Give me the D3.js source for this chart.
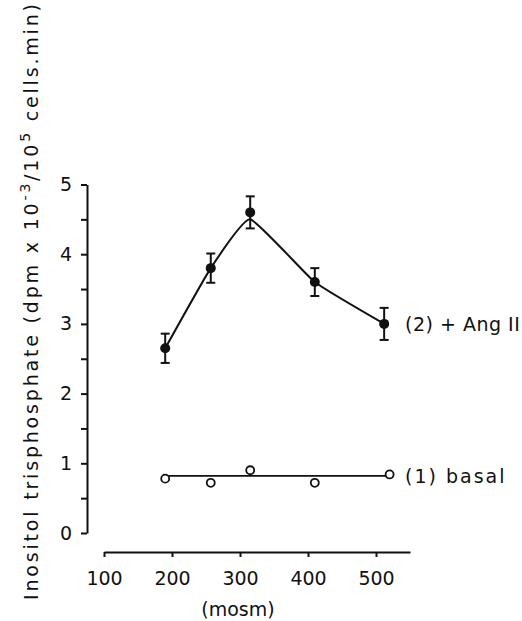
<!DOCTYPE html>
<html>
  <head>
    <meta http-equiv="Content-Type" content="text/html;charset=utf-8">
    <title>Inositol trisphosphate vs osmolality</title>
    <script type="text/javascript" src="https://d3js.org/d3.v7.min.js"></script>
    <style>
      body {
        margin: 0;
        background: #fff;
        font-family: 'DejaVu Sans', sans-serif;
      }
      .axis path, .axis line {
        stroke: #111;
        stroke-width: 2px;
      }
      .axis text {
        font-family: 'DejaVu Sans', sans-serif;
        font-size: 19px;
        fill: #111;
      }
      path.fit {
        fill: none;
        stroke: #111;
        stroke-width: 2px;
      }
      line.err {
        stroke: #111;
        stroke-width: 2px;
      }
      text.label {
        font-size: 19px;
        fill: #111;
      }
    </style>
  </head>
  <body>
    <div id="chart"></div>
    <script>
// values
var osmAng = [190, 257, 315, 410, 512],
    angII = [2.65, 3.8, 4.6, 3.6, 3.0],
    angErr = [0.21, 0.21, 0.23, 0.2, 0.23],
    angFit = [2.65, 3.8, 4.5, 3.6, 3.0];   // hand drawn curve, passes under the peak

var osmBasal = [190, 257, 315, 410, 520],
    basal = [0.78, 0.72, 0.9, 0.72, 0.84],
    basalFit = 0.82;

var xTicks = [100, 200, 300, 400, 500],
    yTicks = [0, 0.5, 1, 1.5, 2, 2.5, 3, 3.5, 4, 4.5, 5];

var width = 522,
    height = 621;

var x = d3.scaleLinear().domain([100, 550]).range([104, 410]);
var y = d3.scaleLinear().domain([0, 5]).range([533, 184.5]);

var svg = d3.select("#chart").append("svg")
    .attr("width", width)
    .attr("height", height);

// axes
svg.append("g")
    .attr("class", "axis")
    .attr("transform", "translate(0,552)")
    .call(d3.axisBottom(x).tickValues(xTicks).tickSize(5).tickSizeOuter(0).tickPadding(15));

svg.append("g")
    .attr("class", "axis")
    .attr("transform", "translate(87,0)")
    .call(d3.axisLeft(y).tickValues(yTicks).tickSize(6).tickSizeOuter(0).tickPadding(9)
      .tickFormat(function(d) { return d % 1 === 0 ? d : ""; }));

// axis titles
var ytitle = svg.append("text")
    .attr("class", "label")
    .attr("transform", "translate(38,302) rotate(-90)")
    .attr("text-anchor", "middle")
    .attr("textLength", 596)
    .attr("lengthAdjust", "spacing");
ytitle.append("tspan").text("Inositol trisphosphate (dpm x 10");
ytitle.append("tspan").attr("dy", -8).attr("font-size", 14).text("-3");
ytitle.append("tspan").attr("dy", 8).text("/10");
ytitle.append("tspan").attr("dy", -8).attr("font-size", 14).text("5");
ytitle.append("tspan").attr("dy", 8).text(" cells.min)");

svg.append("text")
    .attr("class", "label")
    .attr("x", 238)
    .attr("y", 616)
    .attr("text-anchor", "middle")
    .text("(mosm)");

// (2) + Ang II
var line = d3.line()
    .x(function(d, i) { return x(osmAng[i]); })
    .y(function(d) { return y(d); })
    .curve(d3.curveCardinal.tension(0.6));

svg.append("path")
    .attr("class", "fit")
    .attr("d", line(angFit));

var eb = svg.selectAll(".eb")
    .data(angII)
  .enter().append("g")
    .attr("class", "eb");
eb.append("line").attr("class", "err")
    .attr("x1", function(d, i) { return x(osmAng[i]); })
    .attr("x2", function(d, i) { return x(osmAng[i]); })
    .attr("y1", function(d, i) { return y(d - angErr[i]); })
    .attr("y2", function(d, i) { return y(d + angErr[i]); });
[-1, 1].forEach(function(s) {
  eb.append("line").attr("class", "err")
    .attr("x1", function(d, i) { return x(osmAng[i]) - 4.5; })
    .attr("x2", function(d, i) { return x(osmAng[i]) + 4.5; })
    .attr("y1", function(d, i) { return y(d + s * angErr[i]); })
    .attr("y2", function(d, i) { return y(d + s * angErr[i]); });
});
eb.append("circle")
    .attr("cx", function(d, i) { return x(osmAng[i]); })
    .attr("cy", function(d) { return y(d); })
    .attr("r", 5)
    .attr("fill", "#111");

svg.append("text")
    .attr("class", "label")
    .attr("x", 405)
    .attr("y", y(angII[4]) + 7)
    .attr("letter-spacing", 0.5)
    .text("(2) + Ang II");

// (1) basal
svg.append("line")
    .attr("x1", x(osmBasal[0]))
    .attr("x2", x(osmBasal[osmBasal.length - 1]))
    .attr("y1", y(basalFit))
    .attr("y2", y(basalFit))
    .attr("stroke", "#111")
    .attr("stroke-width", 1.6);

svg.selectAll(".bas")
    .data(basal)
  .enter().append("circle")
    .attr("class", "bas")
    .attr("cx", function(d, i) { return x(osmBasal[i]); })
    .attr("cy", function(d) { return y(d); })
    .attr("r", 4)
    .attr("fill", "#fff")
    .attr("stroke", "#111")
    .attr("stroke-width", 1.8);

svg.append("text")
    .attr("class", "label")
    .attr("x", 405)
    .attr("y", y(0.82) + 7)
    .attr("letter-spacing", 2)
    .text("(1) basal");
    </script>
  </body>
</html>
